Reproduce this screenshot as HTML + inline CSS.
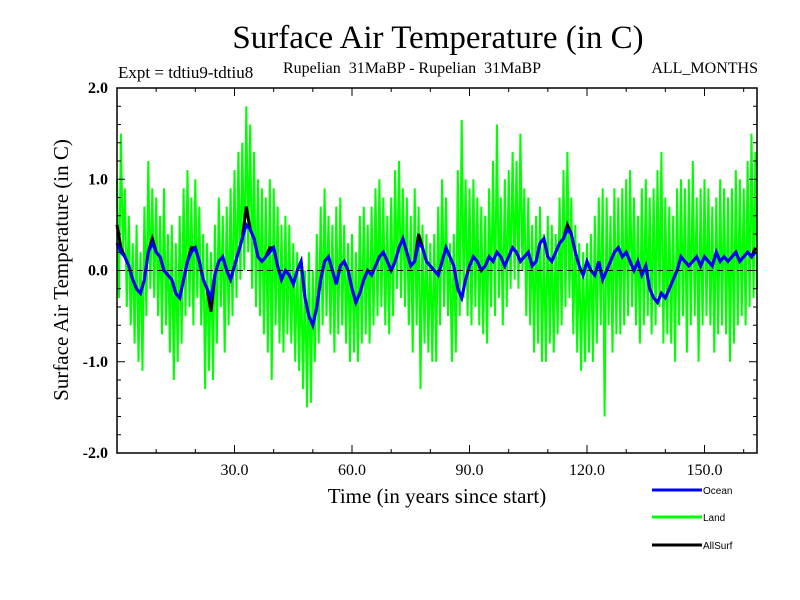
<!DOCTYPE html>
<html><head><meta charset="utf-8"><style>
html,body{margin:0;padding:0;background:#fff;}
svg{display:block;}
text{font-family:"Liberation Serif",serif;fill:#000;}
</style></head><body>
<svg id="chart" width="800" height="600" viewBox="0 0 800 600" xmlns="http://www.w3.org/2000/svg">
<rect width="800" height="600" fill="#fff"/>
<text x="438" y="48" font-size="33" text-anchor="middle">Surface Air Temperature (in C)</text>
<text x="118" y="78" font-size="17">Expt = tdtiu9-tdtiu8</text>
<text x="283" y="73" font-size="16" xml:space="preserve">Rupelian  31MaBP - Rupelian  31MaBP</text>
<text x="758" y="73" font-size="16" text-anchor="end">ALL_MONTHS</text>
<text transform="translate(68,270) rotate(-90)" font-size="21" text-anchor="middle">Surface Air Temperature (in C)</text>
<text x="437" y="503" font-size="21" text-anchor="middle">Time (in years since start)</text>
<g id="plot"></g>
<g id="axes"></g>
<g>
<line x1="652" y1="490" x2="702" y2="490" stroke="#0000ff" stroke-width="3"/>
<text x="703" y="494" font-size="10" style="font-family:'Liberation Sans',sans-serif">Ocean</text>
<line x1="652" y1="517" x2="702" y2="517" stroke="#00ff00" stroke-width="3"/>
<text x="703" y="521" font-size="10" style="font-family:'Liberation Sans',sans-serif">Land</text>
<line x1="652" y1="545" x2="702" y2="545" stroke="#000" stroke-width="3"/>
<text x="703" y="549" font-size="10" style="font-family:'Liberation Sans',sans-serif">AllSurf</text>
</g>
</svg>
<script>
// half-yearly land values, starting year 0
const landValues=[
1.0,-0.3,1.5,0.2,0.9,-0.4,0.6,-0.6,0.3,-0.8,0.5,-1.0,0.2,-1.1,0.7,-0.5,1.2,-0.2,0.9,-0.3,
0.8,-0.5,0.6,-0.7,0.9,-0.6,0.4,-0.9,0.5,-1.2,0.3,-1.0,0.6,-0.8,0.9,-0.5,1.1,-0.4,0.8,-0.6,
1.0,-0.3,0.7,-0.6,0.4,-1.3,0.3,-1.1,0.2,-1.2,0.5,-0.8,0.8,-0.4,0.6,-0.9,0.7,-0.6,0.9,-0.5,
1.1,-0.3,1.3,-0.1,1.4,0.0,1.8,0.2,1.6,-0.2,1.3,-0.4,1.0,-0.5,0.9,-0.7,0.8,-0.9,1.0,-1.2,
0.9,-0.6,0.7,-0.8,0.5,-0.9,0.6,-0.7,0.5,-0.8,0.3,-1.0,0.2,-1.1,0.1,-1.3,0.0,-1.5,0.2,-1.45,
0.0,-1.0,0.4,-0.8,0.7,-0.6,0.9,-0.5,0.6,-0.7,0.5,-0.9,0.7,-0.7,0.8,-0.6,0.5,-0.8,0.3,-1.0,
0.4,-0.9,0.2,-1.0,0.6,-0.8,0.7,-0.7,0.5,-0.8,0.7,-0.6,0.9,-0.5,1.0,-0.4,0.8,-0.6,0.6,-0.7,
0.8,-0.5,1.1,-0.2,1.2,-0.3,0.9,-0.4,0.8,-0.6,0.6,-0.9,0.9,-0.6,0.7,-1.3,0.5,-0.8,0.4,-0.9,
0.3,-1.0,0.4,-1.0,0.7,-0.6,1.0,-0.4,0.8,-0.5,0.3,-1.0,0.4,-0.9,1.1,-0.5,1.65,-0.3,1.0,-0.5,
0.9,-0.6,1.0,-0.4,0.8,-0.6,0.7,-0.7,0.6,-0.8,0.9,-0.4,1.2,-0.5,1.6,-0.3,0.8,-0.6,1.0,-0.4,
1.1,-0.2,1.3,-0.1,1.2,-0.2,1.5,0.0,0.9,-0.5,0.8,-0.6,0.5,-0.9,0.6,-0.8,0.7,-1.0,0.4,-1.0,
0.6,-0.8,0.5,-0.9,0.4,-0.7,0.8,-0.6,1.1,-0.4,1.3,-0.3,0.8,-0.7,0.5,-0.9,0.3,-1.1,0.2,-1.0,
0.3,-0.9,0.4,-1.0,0.6,-0.8,0.8,-0.6,0.9,-1.6,0.8,-0.6,0.6,-0.9,0.9,-0.7,0.8,-0.7,0.9,-0.6,
1.0,-0.5,1.1,-0.4,0.8,-0.6,0.6,-0.8,0.9,-0.6,1.0,-0.5,0.8,-0.7,0.9,-0.6,1.1,-0.4,1.3,-0.8,
0.8,-0.7,0.7,-0.8,0.6,-1.0,0.9,-0.6,1.0,-0.5,0.9,-0.9,1.0,-0.6,1.2,-0.5,0.8,-1.0,0.9,-0.6,
1.0,-0.5,0.9,-0.6,0.7,-0.9,0.8,-0.7,1.0,-0.6,0.9,-0.7,0.8,-1.0,0.9,-0.8,1.1,-0.6,1.0,-0.5,
0.9,-0.6,1.2,-0.4,1.5,-0.3,1.3,-0.2];
// yearly ocean values
const oceanValues=[
0.3,0.2,0.15,0.05,-0.1,-0.2,-0.25,-0.1,0.2,0.3,
0.2,0.15,0.0,-0.05,-0.1,-0.25,-0.3,-0.1,0.1,0.2,
0.25,0.1,-0.1,-0.2,-0.3,-0.05,0.1,0.15,0.0,-0.1,
0.05,0.2,0.35,0.5,0.45,0.35,0.15,0.1,0.15,0.2,
0.25,0.05,-0.1,0.0,-0.05,-0.15,0.0,0.1,-0.3,-0.5,
-0.6,-0.4,-0.1,0.1,0.15,0.0,-0.15,0.05,0.1,0.0,
-0.2,-0.35,-0.25,-0.1,0.0,-0.05,0.05,0.15,0.2,0.1,
0.0,0.1,0.25,0.35,0.2,0.05,0.1,0.3,0.25,0.1,
0.05,0.0,-0.05,0.1,0.25,0.15,0.05,-0.2,-0.3,-0.1,
0.05,0.15,0.1,0.0,0.05,0.15,0.1,0.2,0.15,0.05,
0.15,0.25,0.2,0.1,0.15,0.2,0.05,0.1,0.3,0.35,
0.15,0.1,0.2,0.3,0.35,0.45,0.4,0.2,0.05,-0.05,
0.1,0.0,-0.05,0.1,-0.1,0.0,0.1,0.2,0.25,0.15,
0.2,0.1,0.0,0.1,-0.05,0.05,-0.2,-0.3,-0.35,-0.25,
-0.3,-0.2,-0.1,0.0,0.15,0.1,0.05,0.1,0.15,0.05,
0.15,0.1,0.05,0.2,0.1,0.15,0.1,0.15,0.2,0.1,0.15,0.2,0.15,0.2];
const allSurfValues=[
0.5,0.25,0.15,0.05,-0.1,-0.2,-0.25,-0.1,0.2,0.35,
0.2,0.15,0.0,-0.05,-0.1,-0.25,-0.3,-0.1,0.1,0.25,
0.25,0.1,-0.1,-0.2,-0.45,-0.05,0.1,0.15,0.0,-0.1,
0.05,0.2,0.35,0.7,0.45,0.35,0.15,0.1,0.15,0.25,
0.25,0.05,-0.1,0.0,-0.05,-0.15,0.0,0.1,-0.3,-0.5,
-0.6,-0.4,-0.1,0.1,0.15,0.0,-0.15,0.05,0.1,0.0,
-0.2,-0.35,-0.25,-0.1,0.0,-0.05,0.05,0.15,0.2,0.1,
0.0,0.1,0.25,0.35,0.2,0.05,0.1,0.4,0.25,0.1,
0.05,0.0,-0.05,0.1,0.25,0.15,0.05,-0.2,-0.3,-0.1,
0.05,0.15,0.1,0.0,0.05,0.15,0.1,0.2,0.15,0.05,
0.15,0.25,0.2,0.1,0.15,0.2,0.05,0.1,0.3,0.35,
0.15,0.1,0.2,0.3,0.35,0.5,0.4,0.2,0.05,-0.05,
0.1,0.0,-0.05,0.1,-0.1,0.0,0.1,0.2,0.25,0.15,
0.2,0.1,0.0,0.1,-0.05,0.05,-0.2,-0.3,-0.35,-0.25,
-0.3,-0.2,-0.1,0.0,0.15,0.1,0.05,0.1,0.15,0.05,
0.15,0.1,0.05,0.2,0.1,0.15,0.1,0.15,0.2,0.1,0.15,0.2,0.15,0.25];
const xTickValues=[30,60,90,120,150];
const xTickLabels=["30.0","60.0","90.0","120.0","150.0"];
const yTickValues=[2,1,0,-1,-2];
const yTickLabels=["2.0","1.0","0.0","-1.0","-2.0"];

const NS="http://www.w3.org/2000/svg";
const L=117,R=757,T=88,B=453,X0=0,X1=163.4,Y0=-2,Y1=2;
function xs(v){return L+(v-X0)/(X1-X0)*(R-L);}
function ys(v){return B-(v-Y0)/(Y1-Y0)*(B-T);}
function mk(tag,attrs,parent){const e=document.createElementNS(NS,tag);for(const k in attrs)e.setAttribute(k,attrs[k]);parent.appendChild(e);return e;}
const plot=document.getElementById('plot'),axes=document.getElementById('axes');

function series(vals,step,color,w,name){
  const pts=vals.map((v,i)=>xs(Math.min(i*step,X1)).toFixed(1)+","+ys(v).toFixed(1)).join(" ");
  const p=mk('polyline',{points:pts,fill:'none',stroke:color,'stroke-width':w,'stroke-linejoin':'miter'},plot);
  
  
}
series(landValues,0.5,'#00ff00',2,'land-series');
series(allSurfValues,1,'#000000',3,'allsurf-series');
series(oceanValues,1,'#0000ff',3,'ocean-series');

const zl=mk('line',{x1:L,x2:R,y1:ys(0),y2:ys(0),stroke:'#000','stroke-width':1,'stroke-dasharray':'6,4'},plot);



const frame=mk('rect',{x:L,y:T,width:R-L,height:B-T,fill:'none',stroke:'#000','stroke-width':1.5},axes);



for(let v=10;v<X1;v+=10){
  const x=xs(v),major=(v%30===0),len=major?8:4;
  const t1=mk('line',{x1:x,x2:x,y1:B,y2:B-len,stroke:'#000','stroke-width':1},axes);
  
  
  const t2=mk('line',{x1:x,x2:x,y1:T,y2:T+len,stroke:'#000','stroke-width':1},axes);
  
  
}
xTickValues.forEach((v,i)=>{
  const t=mk('text',{x:xs(v),y:B+22,'font-size':16,'text-anchor':'middle'},axes);
  t.textContent=xTickLabels[i];
  
  
});
for(let k=-10;k<=10;k++){
  const v=k/5,y=ys(v),major=(k%5===0),len=major?8:4;
  const t1=mk('line',{x1:L,x2:L+len,y1:y,y2:y,stroke:'#000','stroke-width':1},axes);
  
  
  const t2=mk('line',{x1:R,x2:R-len,y1:y,y2:y,stroke:'#000','stroke-width':1},axes);
  
  
}
yTickValues.forEach((v,i)=>{
  const t=mk('text',{x:L-9,y:ys(v)+5,'font-size':16,'text-anchor':'end','font-weight':'bold'},axes);
  t.textContent=yTickLabels[i];
  
  
});
</script>
</body></html>
